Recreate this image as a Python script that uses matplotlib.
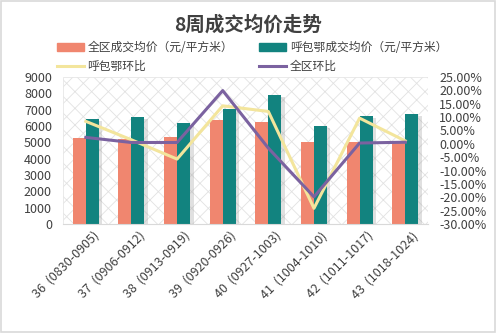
import matplotlib.pyplot as plt
import matplotlib.patheffects as pe
import matplotlib.transforms as mtransforms
from matplotlib.patches import Patch, Rectangle
from matplotlib.lines import Line2D
from matplotlib.ticker import FuncFormatter
import numpy as np

plt.rcParams['font.family'] = ['Noto Sans CJK SC', 'DejaVu Sans']
plt.rcParams['hatch.linewidth'] = 0.6
plt.rcParams['hatch.color'] = '#e2e2e2'

# weekly data
weeks = ['36  (0830-0905)', '37  (0906-0912)', '38  (0913-0919)', '39  (0920-0926)',
         '40  (0927-1003)', '41  (1004-1010)', '42  (1011-1017)', '43  (1018-1024)']
region_price = [5240, 5200, 5320, 6360, 6230, 5010, 5010, 4980]
hbe_price = [6400, 6540, 6170, 7030, 7880, 5990, 6600, 6720]
hbe_mom = [8.4, 1.5, -5.7, 14.2, 12.1, -24.1, 9.6, 1.1]
region_mom = [2.4, 0.5, 0.5, 19.9, -1.6, -19.8, 0.3, 0.6]

c_region = '#F0866F'
c_hbe = '#12837F'
c_hbe_line = '#F3E59C'
c_region_line = '#7B62A0'
c_text = '#404040'

fig = plt.figure(figsize=(4.96, 3.33), dpi=100)
fig.patches.append(Rectangle((0.002, 0.003), 0.995, 0.994, transform=fig.transFigure,
                             fill=False, edgecolor='#d9d9d9', linewidth=1.2))

ax = fig.add_axes([0.127, 0.327, 0.736, 0.442])
ax.add_patch(Rectangle((0, 0), 1, 1, transform=ax.transAxes, fill=False,
                       edgecolor='#e2e2e2', hatch='xx', linewidth=0.5, zorder=0))

x = np.arange(len(weeks))
w = 0.285
shadow = [pe.SimplePatchShadow(offset=(2.5, -1), shadow_rgbFace='#999999', alpha=0.3), pe.Normal()]
b1 = ax.bar(x - w / 2, region_price, w, color=c_region, zorder=2)
b2 = ax.bar(x + w / 2, hbe_price, w, color=c_hbe, zorder=2)
for b in list(b1) + list(b2):
    b.set_path_effects(shadow)

ax.set_ylim(0, 9000)
ax.set_yticks(range(0, 9001, 1000))
ax.set_xlim(-0.5, len(weeks) - 0.5)
ax.set_xticks(x)
ax.set_xticklabels(weeks, rotation=45, ha='right', va='center', rotation_mode='anchor',
                   fontsize=9, color=c_text)
ax.tick_params(axis='both', length=0, labelsize=9, labelcolor=c_text)
ax.tick_params(axis='x', pad=7)
ax.tick_params(axis='y', pad=8)
# nudge the rotated week labels so their ends sit under each group
shift = mtransforms.ScaledTranslation(8 / 72, 0, fig.dpi_scale_trans)
for lbl in ax.get_xticklabels():
    lbl.set_transform(lbl.get_transform() + shift)
for s in ['top', 'left', 'right']:
    ax.spines[s].set_visible(False)
ax.spines['bottom'].set_color('#d9d9d9')

ax2 = ax.twinx()
ax2.plot(x, hbe_mom, color=c_hbe_line, linewidth=2.2, zorder=3)
ax2.plot(x, region_mom, color=c_region_line, linewidth=2.2, zorder=4)
ax2.set_ylim(-30, 25)
ax2.set_yticks(range(-30, 26, 5))
ax2.yaxis.set_major_formatter(FuncFormatter(lambda v, p: f'{v:.2f}%'))
ax2.tick_params(axis='y', length=0, labelsize=9, labelcolor=c_text, pad=8)
for s in ax2.spines.values():
    s.set_visible(False)

fig.text(0.5, 0.925, '8周成交均价走势', ha='center', va='center', fontsize=14,
         fontweight='bold', color=c_text)

handles = [Patch(color=c_region), Line2D([], [], color=c_hbe_line, linewidth=2.2),
           Patch(color=c_hbe), Line2D([], [], color=c_region_line, linewidth=2.2)]
labels = ['全区成交均价（元/平方米）', '呼包鄂环比', '呼包鄂成交均价（元/平方米）', '全区环比']
fig.legend(handles, labels, ncol=2, loc='center', bbox_to_anchor=(0.508, 0.828), frameon=False,
           fontsize=8.5, labelcolor=c_text, handlelength=2.3, handleheight=0.7,
           columnspacing=2.2, labelspacing=0.5, handletextpad=0.3)

fig.savefig('out.png', dpi=100)
